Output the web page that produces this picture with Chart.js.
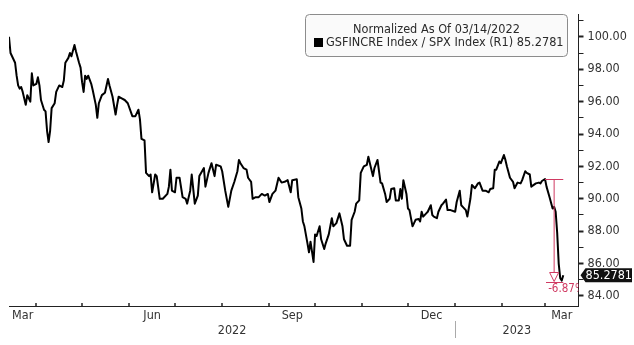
<!DOCTYPE html>
<html>
<head>
<meta charset="utf-8">
<script src="https://cdn.jsdelivr.net/npm/chart.js@4.4.0/dist/chart.umd.min.js"></script>
<style>
  html, body { margin: 0; padding: 0; background: #fff; }
</style>
</head>
<body>
<canvas id="chart" width="634" height="345"></canvas>
<script>
// GSFINCRE Index / SPX Index, normalized to 100 on 2022-03-14.
// x values are calendar days counted from that date.
const startDate = '2022-03-14';
const axisEndDay = 374;

const days = [
  0, 1, 2, 4, 5, 6, 7, 8, 9, 11,
  12, 13, 14, 15, 16, 18, 19, 20, 21, 23,
  24, 25, 26, 27, 28, 30, 31, 33, 35, 36,
  37, 39, 40, 41, 43, 44, 46, 47, 48, 49,
  50, 51, 52, 54, 55, 57, 58, 59, 61, 63,
  65, 66, 68, 70, 71, 72, 74, 76, 78, 81,
  83, 85, 86, 87, 89, 90, 92, 93, 94, 96,
  97, 99, 101, 104, 105, 106, 107, 109, 110, 112,
  114, 116, 117, 119, 120, 122, 124, 125, 128, 129,
  131, 133, 135, 136, 139, 140, 142, 144, 146, 148,
  150, 151, 152, 154, 156, 157, 159, 160, 162, 164,
  166, 168, 170, 171, 173, 175, 177, 179, 181, 183,
  185, 186, 189, 190, 192, 193, 194, 196, 197, 198,
  200, 201, 202, 204, 205, 207, 208, 210, 212, 213,
  215, 217, 219, 220, 222, 224, 225, 227, 228, 230,
  231, 233, 235, 236, 237, 239, 240, 242, 244, 245,
  247, 248, 250, 251, 253, 254, 256, 257, 258, 259,
  261, 262, 263, 265, 267, 269, 270, 271, 272, 274,
  275, 277, 278, 279, 281, 282, 284, 285, 287, 288,
  290, 293, 294, 296, 297, 298, 300, 301, 303, 304,
  306, 308, 309, 311, 313, 315, 316, 318, 319, 320,
  322, 323, 325, 326, 327, 329, 331, 332, 334, 336,
  337, 339, 340, 342, 343, 346, 348, 349, 350, 352,
  353, 355, 357, 358, 359, 360, 361, 362, 363, 364
];

const ratio = [
  100.0, 99.0, 98.8, 98.4, 97.6, 97.0, 96.8, 96.9, 96.6, 95.8,
  96.4, 96.2, 96.0, 97.75, 97.0, 97.1, 97.5, 97.0, 96.1, 95.5,
  95.4, 94.2, 93.5, 94.2, 95.6, 95.9, 96.6, 97.0, 96.9, 97.3,
  98.4, 98.7, 99.0, 98.8, 99.5, 99.1, 98.4, 98.1, 97.2, 96.6,
  97.6, 97.4, 97.6, 97.1, 96.7, 95.8, 95.0, 95.9, 96.4, 96.55,
  97.4, 97.0, 96.3, 95.2, 95.8, 96.3, 96.2, 96.1, 95.9, 95.1,
  95.1, 95.5, 94.9, 93.7, 93.6, 91.6, 91.4, 91.5, 90.4, 91.5,
  91.4, 90.0, 90.0, 90.3, 90.75, 91.8, 90.5, 90.4, 91.3, 91.3,
  90.1, 90.0, 89.7, 90.5, 91.5, 89.7, 90.2, 91.4, 91.9, 90.75,
  91.6, 92.2, 91.4, 92.1, 92.0, 91.7, 90.5, 89.5, 90.5, 91.05,
  91.7, 92.4, 92.2, 91.9, 91.8, 91.3, 91.05, 90.0, 90.1, 90.1,
  90.3, 90.2, 90.3, 89.8, 90.3, 90.5, 91.3, 91.0, 91.05, 91.15,
  90.4, 91.15, 91.2, 90.1, 89.4, 88.6, 88.3, 87.25, 86.7, 87.35,
  86.1, 87.8, 87.7, 88.3, 87.5, 86.9, 87.25, 87.8, 88.8, 88.3,
  88.5, 89.1, 88.3, 87.5, 87.1, 87.1, 88.7, 89.2, 89.7, 89.9,
  91.6, 92.0, 92.1, 92.6, 92.2, 91.4, 91.9, 92.4, 91.0, 90.95,
  90.3, 89.8, 90.0, 90.6, 90.65, 89.9, 89.9, 90.6, 90.0, 91.15,
  90.3, 89.4, 89.3, 88.3, 88.7, 88.75, 88.6, 89.2, 88.9, 89.1,
  89.2, 89.6, 89.0, 88.9, 88.8, 89.2, 89.6, 89.7, 89.95, 89.3,
  89.3, 89.2, 89.8, 90.5, 89.6, 89.5, 89.3, 88.9, 90.0, 90.85,
  90.65, 90.95, 91.0, 90.5, 90.5, 90.4, 90.6, 90.65, 91.8, 91.8,
  92.3, 92.2, 92.7, 92.4, 92.0, 91.3, 91.05, 90.65, 91.0, 90.95,
  91.15, 91.7, 91.6, 91.5, 90.75, 90.95, 91.0, 90.95, 91.1, 91.22,
  90.75, 90.1, 89.4, 89.5, 89.2, 87.9, 86.0, 85.1, 84.95, 85.2781
];

// right axis: labelled every 2, minor marks in between
const yTickValues = [84, 85, 86, 87, 88, 89, 90, 91, 92, 93, 94, 95, 96, 97, 98, 99, 100, 101];
const yMin = 83.38;
const yMax = 101.41;

// time axis: a tick at each month start, a label on each quarter month
const monthStarts = ['2022-04-01', '2022-05-01', '2022-06-01', '2022-07-01', '2022-08-01', '2022-09-01',
  '2022-10-01', '2022-11-01', '2022-12-01', '2023-01-01', '2023-02-01', '2023-03-01'];
const monthLabels = ['Mar', 'Jun', 'Sep', 'Dec', 'Mar'];
const monthLabelStarts = ['2022-03-01', '2022-06-01', '2022-09-01', '2022-12-01', '2023-03-01'];
const yearLabels = ['2022', '2023'];

// the late drop that gets the red measure arrow
const dropStartDay = 352;

const seriesName = 'GSFINCRE Index / SPX Index (R1)';
const legendTitle = 'Normalized As Of 03/14/2022';

const FONT = '"DejaVu Sans Condensed", "DejaVu Sans", sans-serif';
const DAY = 86400000;
const t0 = Date.parse(startDate + 'T00:00:00Z');
const dayOf = s => Math.round((Date.parse(s + 'T00:00:00Z') - t0) / DAY);
const nextMonth = s => {
  const d = new Date(s + 'T00:00:00Z');
  return new Date(Date.UTC(d.getUTCFullYear(), d.getUTCMonth() + 1, 1)).toISOString().slice(0, 10);
};

const lastValue = ratio[ratio.length - 1];
const dropIdx = days.indexOf(dropStartDay);
const dropFrom = ratio[dropIdx];
const dropTo = Math.min(...ratio.slice(dropIdx));
const dropPct = ((dropTo / dropFrom - 1) * 100).toFixed(2) + '%';

const extras = {
  id: 'extras',
  afterDraw(chart) {
    const { ctx, chartArea: area, scales: { x, y } } = chart;
    ctx.save();

    // month ticks sit on the axis line, pointing up into the plot
    ctx.strokeStyle = '#222';
    ctx.lineWidth = 1.5;
    monthStarts.forEach(s => {
      const px = Math.round(x.getPixelForValue(dayOf(s)));
      ctx.beginPath();
      ctx.moveTo(px, area.bottom);
      ctx.lineTo(px, area.bottom - 3);
      ctx.stroke();
    });

    ctx.font = '12.5px ' + FONT;
    ctx.fillStyle = '#333';
    ctx.textAlign = 'center';
    ctx.textBaseline = 'middle';
    monthLabels.forEach((m, i) => {
      const a = Math.max(dayOf(monthLabelStarts[i]), x.min);
      const b = Math.min(dayOf(nextMonth(monthLabelStarts[i])), x.max);
      ctx.fillText(m, x.getPixelForValue((a + b) / 2), area.bottom + 10);
    });
    yearLabels.forEach(yr => {
      const a = Math.max(dayOf(yr + '-01-01'), x.min);
      const b = Math.min(dayOf((+yr + 1) + '-01-01'), x.max);
      ctx.fillText(yr, x.getPixelForValue((a + b) / 2), area.bottom + 25);
    });
    // divider between the year labels
    ctx.strokeStyle = '#aaa';
    ctx.lineWidth = 1;
    const xy = Math.round(x.getPixelForValue(dayOf(yearLabels[1] + '-01-01'))) + 0.5;
    ctx.beginPath();
    ctx.moveTo(xy, area.bottom + 15);
    ctx.lineTo(xy, area.bottom + 32);
    ctx.stroke();

    // red measure of the final drop
    const red = '#d03a62';
    const xa = x.getPixelForValue(dropStartDay);
    const xb = x.getPixelForValue(days[days.length - 1]);
    const xm = (xa + xb) / 2;
    const yTop = Math.round(y.getPixelForValue(dropFrom)) + 0.5;
    const yBot = Math.round(y.getPixelForValue(dropTo)) + 0.5;
    ctx.strokeStyle = red;
    ctx.lineWidth = 1;
    ctx.beginPath();
    ctx.moveTo(xa, yTop); ctx.lineTo(xb, yTop);
    ctx.moveTo(xm, yTop); ctx.lineTo(xm, yBot - 9);
    ctx.moveTo(xm - 4.5, yBot - 9); ctx.lineTo(xm + 4.5, yBot - 9); ctx.lineTo(xm, yBot); ctx.closePath();
    ctx.moveTo(xa + 1, yBot + 1); ctx.lineTo(xb, yBot + 1);
    ctx.stroke();
    ctx.save();
    ctx.beginPath();
    ctx.rect(area.left, area.top, area.right - area.left, area.bottom - area.top);
    ctx.clip();
    ctx.fillStyle = red;
    ctx.font = '11.5px ' + FONT;
    ctx.textAlign = 'left';
    ctx.fillText(dropPct, xm - 6, yBot + 8);
    ctx.restore();

    // last value tag on the right axis
    const yl = y.getPixelForValue(lastValue);
    const tx = area.right + 2;
    ctx.fillStyle = '#111';
    ctx.beginPath();
    ctx.moveTo(tx, yl);
    ctx.lineTo(tx + 5, yl - 7);
    ctx.lineTo(632, yl - 7);
    ctx.lineTo(632, yl + 7);
    ctx.lineTo(tx + 5, yl + 7);
    ctx.closePath();
    ctx.fill();
    ctx.fillStyle = '#fff';
    ctx.font = '12.5px ' + FONT;
    ctx.textAlign = 'center';
    ctx.fillText(lastValue.toFixed(4), (tx + 5 + 632) / 2, yl + 0.5);

    // legend box
    const bx = 305.5, by = 14.5, bw = 262, bh = 42;
    ctx.fillStyle = '#fafafa';
    ctx.strokeStyle = '#8c8c8c';
    ctx.beginPath();
    ctx.roundRect(bx, by, bw, bh, 4);
    ctx.fill();
    ctx.stroke();
    ctx.fillStyle = '#2a2a2a';
    ctx.font = '12.6px ' + FONT;
    ctx.textAlign = 'center';
    ctx.fillText(legendTitle, bx + bw / 2, by + 15);
    ctx.fillStyle = '#000';
    ctx.fillRect(314, 38, 9, 9);
    ctx.fillStyle = '#2a2a2a';
    ctx.textAlign = 'left';
    ctx.fillText(seriesName + ' ' + lastValue.toFixed(4), 326, 43);

    ctx.restore();
  }
};

new Chart(document.getElementById('chart'), {
  type: 'line',
  data: {
    datasets: [{
      label: seriesName,
      data: days.map((d, i) => ({ x: d, y: ratio[i] })),
      borderColor: '#000',
      borderWidth: 2,
      pointRadius: 0,
      tension: 0,
      borderJoinStyle: 'round'
    }]
  },
  options: {
    responsive: false,
    animation: false,
    devicePixelRatio: 1,
    layout: { padding: { left: 9, top: 14, right: 0, bottom: 0 } },
    scales: {
      x: {
        type: 'linear',
        min: 0,
        max: axisEndDay,
        ticks: { display: false },
        grid: { display: false },
        border: { display: true, color: '#222', width: 1 },
        afterFit: s => { s.height = 39; }
      },
      y: {
        position: 'right',
        min: yMin,
        max: yMax,
        afterBuildTicks: s => { s.ticks = yTickValues.map(v => ({ value: v })); },
        ticks: {
          color: '#333',
          font: { family: FONT, size: 12.5 },
          padding: 4,
          autoSkip: false,
          callback: v => (v % 2 === 0 ? v.toFixed(2) : '')
        },
        grid: {
          display: true,
          drawOnChartArea: false,
          drawTicks: true,
          tickLength: 5,
          tickColor: '#222',
          tickWidth: ctx => (ctx.tick && ctx.tick.value % 2 === 0 ? 2 : 1)
        },
        border: { display: true, color: '#222', width: 1 },
        afterFit: s => { s.width = 55.5; }
      }
    },
    plugins: {
      legend: { display: false },
      tooltip: { enabled: false }
    }
  },
  plugins: [extras]
});
</script>
</body>
</html>
